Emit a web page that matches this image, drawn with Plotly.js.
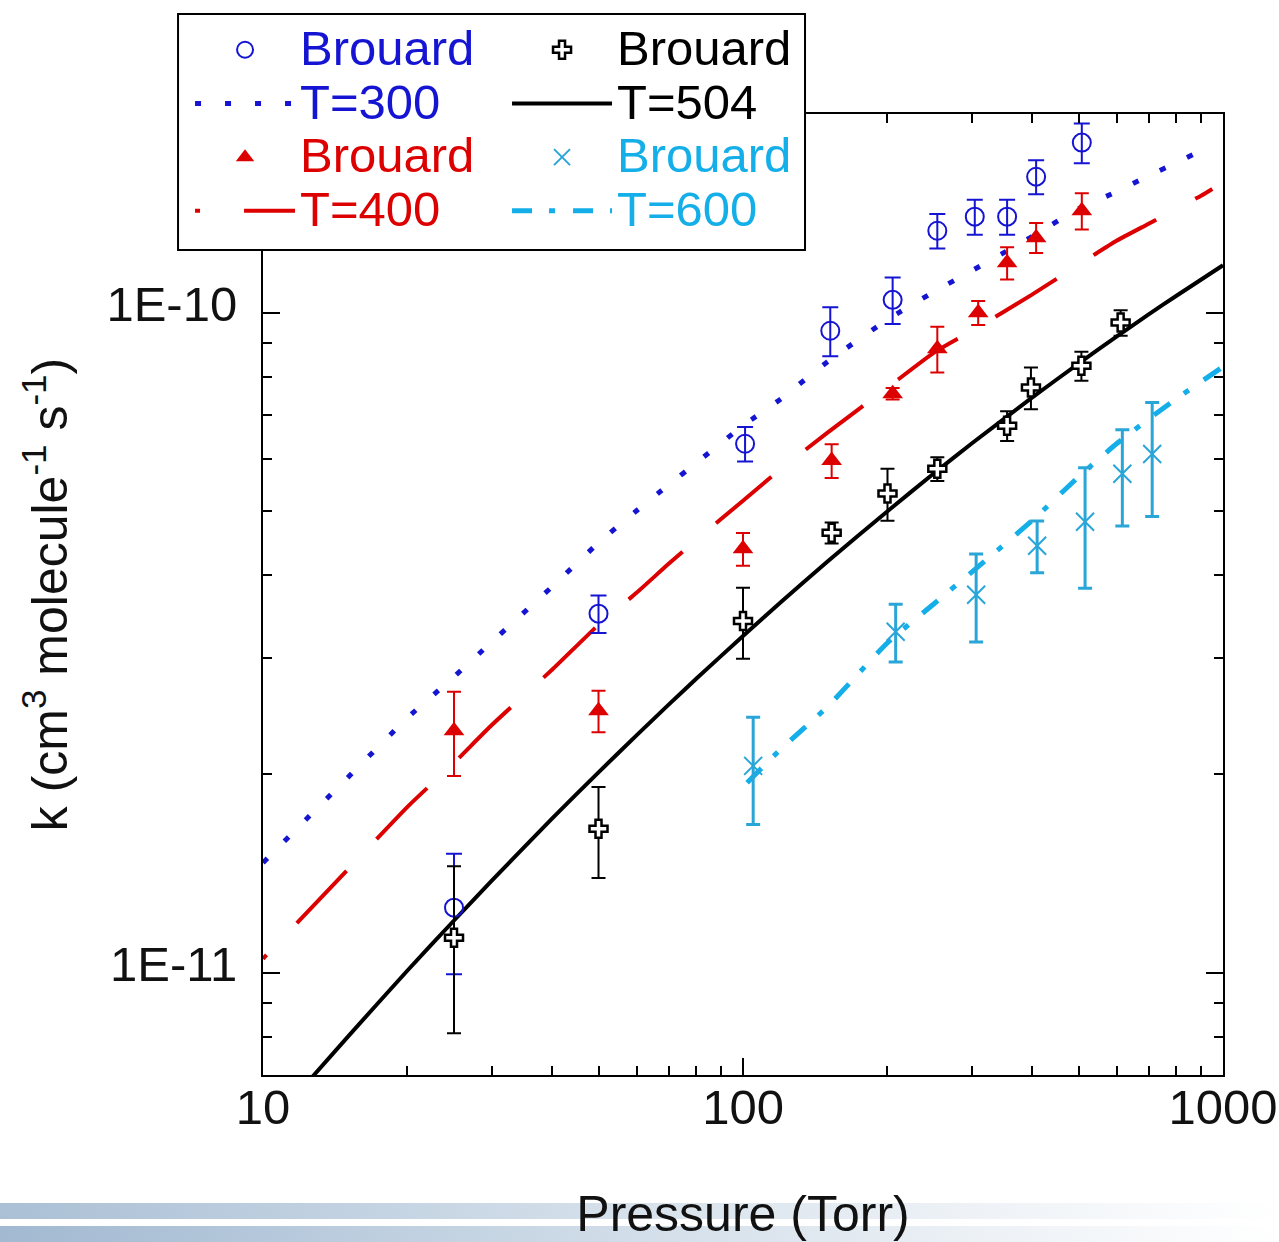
<!DOCTYPE html>
<html>
<head>
<meta charset="utf-8">
<script src="https://cdn.plot.ly/plotly-3.0.1.min.js"></script>
<style>
  html, body { margin: 0; padding: 0; background: #ffffff; }
  #wrap { position: relative; width: 1279px; height: 1242px; overflow: hidden; }
  .band { position: absolute; left: 0; width: 1279px;
          background: linear-gradient(to right, #a2b9d1 0%, #b9cbdd 25%, #d2dee9 50%, #ebf0f5 75%, #ffffff 100%); }
  #chart { position: absolute; left: 0; top: 0; width: 1279px; height: 1242px; }
</style>
</head>
<body>
<div id="wrap">
  <div class="band" style="top:1203px;height:16px;opacity:0.9"></div>
  <div class="band" style="top:1226px;height:16px;"></div>
  <div id="chart"></div>
</div>
<script>
// ---------- data ----------
// Brouard measurements, T = 300 K
const p300 = [25, 50, 101, 152, 205, 254, 304, 355, 408, 508];
const k300 = [1.255e-11, 3.50e-11, 6.33e-11, 9.39e-11, 1.046e-10, 1.331e-10, 1.398e-10, 1.398e-10, 1.607e-10, 1.810e-10];
const err300 = [2.6e-12, 2.3e-12, 3.8e-12, 8.0e-12, 8.5e-12, 8.0e-12, 8.5e-12, 8.5e-12, 9.5e-12, 1.25e-11];

// Brouard measurements, T = 400 K
const p400 = [25, 50, 100, 153, 205, 254, 309, 355, 408, 508];
const k400 = [2.326e-11, 2.494e-11, 4.388e-11, 5.97e-11, 7.54e-11, 8.82e-11, 1.0e-10, 1.19e-10, 1.299e-10, 1.427e-10];
const err400 = [3.4e-12, 1.8e-12, 2.5e-12, 3.5e-12, 1.5e-12, 7.0e-12, 4.2e-12, 6.7e-12, 6.8e-12, 9.0e-12];

// Brouard measurements, T = 504 K
const p504 = [25, 50, 100, 153, 200, 254, 355, 398, 507, 612];
const k504 = [1.13e-11, 1.652e-11, 3.41e-11, 4.64e-11, 5.32e-11, 5.80e-11, 6.74e-11, 7.70e-11, 8.31e-11, 9.66e-11];
const err504 = [3.2e-12, 2.6e-12, 4.2e-12, 1.7e-12, 4.8e-12, 2.4e-12, 3.5e-12, 5.6e-12, 4.2e-12, 4.3e-12];

// Brouard measurements, T = 600 K
const p600 = [105, 208, 306, 410, 516, 617, 712];
const k600 = [2.058e-11, 3.286e-11, 3.739e-11, 4.436e-11, 4.823e-11, 5.70e-11, 6.11e-11];
const err600 = [3.8e-12, 3.3e-12, 5.7e-12, 4.0e-12, 1.0e-11, 9.5e-12, 1.2e-11];

// model curves
const pFit300 = [10, 15, 20, 25, 30, 40, 50, 60, 70, 80, 100, 120, 150, 200, 250, 300, 400, 500, 600, 700, 800, 900, 930];
const kFit300 = [1.468e-11, 1.974e-11, 2.434e-11, 2.809e-11, 3.174e-11, 3.844e-11, 4.482e-11, 5.012e-11, 5.486e-11, 5.925e-11, 6.743e-11, 7.407e-11, 8.43e-11, 9.76e-11, 1.076e-10, 1.158e-10, 1.304e-10, 1.437e-10, 1.525e-10, 1.613e-10, 1.688e-10, 1.760e-10, 1.78e-10];

const pFit400 = [10, 15, 20, 25, 30, 40, 50, 60, 70, 80, 100, 120, 150, 200, 250, 300, 400, 500, 600, 700, 800, 900, 950];
const kFit400 = [1.050e-11, 1.432e-11, 1.784e-11, 2.08e-11, 2.375e-11, 2.877e-11, 3.366e-11, 3.764e-11, 4.165e-11, 4.53e-11, 5.19e-11, 5.80e-11, 6.58e-11, 7.70e-11, 8.70e-11, 9.39e-11, 1.065e-10, 1.182e-10, 1.285e-10, 1.364e-10, 1.437e-10, 1.504e-10, 1.54e-10];

const pFit504 = [12, 15, 20, 25, 30, 40, 50, 60, 70, 80, 100, 120, 150, 200, 250, 300, 400, 500, 600, 700, 800, 1000];
const kFit504 = [6.65e-12, 7.99e-12, 1.008e-11, 1.20e-11, 1.380e-11, 1.712e-11, 2.012e-11, 2.289e-11, 2.548e-11, 2.791e-11, 3.237e-11, 3.645e-11, 4.198e-11, 5.004e-11, 5.711e-11, 6.342e-11, 7.435e-11, 8.374e-11, 9.20e-11, 9.94e-11, 1.061e-10, 1.18e-10];

const pFit600 = [102, 120, 150, 200, 250, 300, 400, 500, 600, 700, 800, 1000];
const kFit600 = [1.941e-11, 2.184e-11, 2.53e-11, 3.162e-11, 3.623e-11, 4.05e-11, 4.84e-11, 5.64e-11, 6.33e-11, 6.9e-11, 7.41e-11, 8.28e-11];

// axis ticks
const xTickVals = [10, 100, 1000];
const xTickText = ['10', '100', '1000'];
const yTickVals = [1e-11, 1e-10];
const yTickText = ['1E-11', '1E-10'];

// ---------- styling ----------
const FONT = 'Liberation Sans, Arial, Helvetica, sans-serif';
const FS = 49;          // tick labels / legend text
const FS_TITLE = 50;    // axis titles
const LEG_FS = 39;      // legend row pitch
const BLUE = '#1414d2', RED = '#dd0000', BLACK = '#000000', CYAN = '#14aee8', CYAN_M = '#2aa5d8';

function minorLog(lo, hi) {
  const out = [];
  for (let d = lo; d <= hi; d++) {
    for (let m = 2; m <= 9; m++) out.push(m * Math.pow(10, d));
  }
  return out;
}
function label(txt, col) { return '<span style="color:' + col + ';font-size:' + FS + 'px">' + txt + '</span>'; }
// long-dash pattern with the phase of the reference (short tail first)
function phasedDash(head, gap, dash, n) {
  const parts = [head + 'px', gap + 'px'];
  for (let i = 0; i < n; i++) { parts.push(dash + 'px'); parts.push(gap + 'px'); }
  return parts.join(',');
}

const traces = [
  // model curves (drawn below the markers)
  { x: pFit300, y: kFit300, mode: 'lines', name: label('T=300', BLUE), legend: 'legend', legendrank: 2,
    line: { color: BLUE, width: 5, dash: '6px,24px', shape: 'spline', smoothing: 0.5 } },
  { x: pFit400, y: kFit400, mode: 'lines', name: label('T=400', RED), legend: 'legend', legendrank: 4,
    line: { color: RED, width: 4, dash: phasedDash(5, 44, 72, 14), shape: 'spline', smoothing: 0.5 } },
  { x: pFit504, y: kFit504, mode: 'lines', name: label('T=504', BLACK), legend: 'legend2', legendrank: 2,
    line: { color: BLACK, width: 4, shape: 'spline', smoothing: 0.5 } },
  { x: pFit600, y: kFit600, mode: 'lines', name: label('T=600', CYAN), legend: 'legend2', legendrank: 4,
    line: { color: CYAN, width: 5, dash: '20px,17px,6px,18px', shape: 'spline', smoothing: 0.5 } },
  // measurements
  { x: p300, y: k300, mode: 'markers', name: label('Brouard', BLUE), legend: 'legend', legendrank: 1,
    marker: { symbol: 'circle-open', size: 18, color: BLUE, line: { width: 2, color: BLUE } },
    error_y: { type: 'data', array: err300, visible: true, color: BLUE, thickness: 2, width: 8 } },
  { x: p400, y: k400, mode: 'markers', name: label('Brouard', RED), legend: 'legend', legendrank: 3,
    marker: { symbol: 'triangle-up', size: 18, color: RED },
    error_y: { type: 'data', array: err400, visible: true, color: RED, thickness: 2, width: 7 } },
  { x: p504, y: k504, mode: 'markers', name: label('Brouard', BLACK), legend: 'legend2', legendrank: 1,
    marker: { symbol: 'cross', size: 15, color: '#ffffff', line: { width: 2.5, color: BLACK } },
    error_y: { type: 'data', array: err504, visible: true, color: BLACK, thickness: 2, width: 7 } },
  { x: p600, y: k600, mode: 'markers', name: label('Brouard', CYAN), legend: 'legend2', legendrank: 3,
    marker: { symbol: 'x-thin', size: 18, color: CYAN_M, line: { width: 2, color: CYAN_M } },
    error_y: { type: 'data', array: err600, visible: true, color: CYAN_M, thickness: 3, width: 7 } }
];

const legendCommon = {
  orientation: 'v', xanchor: 'left', yanchor: 'top', y: 1.100,
  bgcolor: 'rgba(0,0,0,0)', borderwidth: 0,
  font: { family: FONT, size: LEG_FS },
  itemwidth: 100, tracegroupgap: 0, traceorder: 'normal'
};

const layout = {
  width: 1279, height: 1242,
  margin: { l: 263, r: 56, t: 114, b: 167, pad: 0 },
  paper_bgcolor: 'rgba(0,0,0,0)',
  plot_bgcolor: '#ffffff',
  font: { family: FONT, size: FS, color: '#111111' },
  showlegend: true,
  legend: Object.assign({}, legendCommon, { x: -0.076 }),
  legend2: Object.assign({}, legendCommon, { x: 0.2542 }),
  shapes: [
    // legend frame
    { type: 'rect', xref: 'paper', yref: 'paper', x0: -0.0885, x1: 0.5646, y0: 0.8585, y1: 1.1041,
      line: { color: '#000000', width: 2 }, fillcolor: '#ffffff', layer: 'above' }
  ],
  xaxis: {
    type: 'log', range: [1, 3],
    tickmode: 'array', tickvals: xTickVals, ticktext: xTickText,
    ticks: 'inside', ticklen: 17, tickwidth: 2, tickcolor: '#000',
    minor: { tickmode: 'array', tickvals: minorLog(1, 2), ticks: 'inside', ticklen: 9, tickwidth: 2, tickcolor: '#000', showgrid: false },
    showline: true, linecolor: '#000', linewidth: 2, mirror: 'ticks',
    showgrid: false, zeroline: false,
    tickfont: { family: FONT, size: FS, color: '#111' },
    ticklabelstandoff: -12,
    title: { text: 'Pressure (Torr)', font: { family: FONT, size: FS_TITLE, color: '#111' }, standoff: 80 }
  },
  yaxis: {
    type: 'log', range: [Math.log10(7e-12), Math.log10(2e-10)],
    tickmode: 'array', tickvals: yTickVals, ticktext: yTickText,
    ticks: 'inside', ticklen: 17, tickwidth: 2, tickcolor: '#000',
    minor: { tickmode: 'array', tickvals: minorLog(-12, -10), ticks: 'inside', ticklen: 9, tickwidth: 2, tickcolor: '#000', showgrid: false },
    showline: true, linecolor: '#000', linewidth: 2, mirror: 'ticks',
    showgrid: false, zeroline: false,
    tickfont: { family: FONT, size: FS, color: '#111' },
    ticklabelstandoff: 14, ticklabelshift: -9,
    title: { text: 'k (cm<sup>3</sup> molecule<sup>-1</sup> s<sup>-1</sup>)', font: { family: FONT, size: FS_TITLE, color: '#111' }, standoff: 23 }
  }
};

Plotly.newPlot('chart', traces, layout, { displayModeBar: false, staticPlot: true });
</script>
</body>
</html>
